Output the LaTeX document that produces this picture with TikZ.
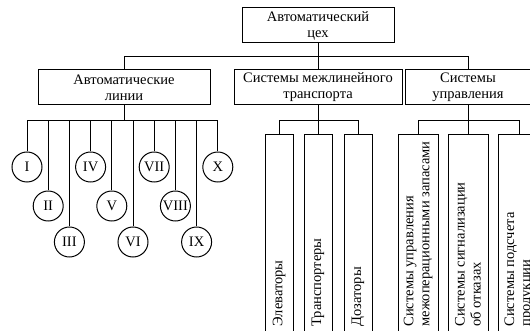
\documentclass[tikz,border=0pt]{standalone}
\usepackage{fontspec}
\setmainfont{Liberation Serif}
\usetikzlibrary{positioning}

\begin{document}
\begin{tikzpicture}[x=1pt,y=-1pt,line width=1pt,
  every node/.style={font=\fontsize{14.5}{16}\selectfont},
  main node/.style={rectangle,draw,align=center,minimum height=35pt,inner sep=1pt},
  num node/.style={circle,draw,minimum size=30pt,inner sep=0pt},
  tall node/.style={rectangle,draw,anchor=north,minimum height=206pt},
  side text/.style={rotate=90,anchor=west,align=left,inner sep=1pt}]

  \clip (0,0) rectangle (530,331);

  \node[main node, minimum width=152pt] (1) at (318,25.5) {Автоматический\\цех};

  \node[main node, minimum width=172pt] (2) at (124,87.5) {Автоматические\\линии};
  \node[main node, minimum width=168pt] (3) at (318,87.5) {Системы межлинейного\\транспорта};
  \node[main node, minimum width=126pt] (4) at (468,87.5) {Системы\\управления};

  % automatic lines
  \foreach \r [count=\i from 0] in {I,II,III,IV,V,VI,VII,VIII,IX,X}{
    \pgfmathsetmacro{\yy}{{167,206,242}[mod(\i,3)]}
    \pgfmathtruncatemacro{\n}{\i+5}
    \node[num node] (\n) at (27+21.2*\i,\yy) {\r};
  }

  \node[tall node, minimum width=28pt] (15) at (279,134) {};
  \node[tall node, minimum width=28pt] (16) at (318,134) {};
  \node[tall node, minimum width=28pt] (17) at (358,134) {};
  \node[tall node, minimum width=40pt] (18) at (418,134) {};
  \node[tall node, minimum width=40pt] (19) at (468,134) {};
  \node[tall node, minimum width=42pt] (20) at (519,134) {};

  \node[side text] (15t) at ([yshift=13pt]15.south) {Элеваторы};
  \node[side text] (16t) at ([yshift=13pt]16.south) {Транспортеры};
  \node[side text] (17t) at ([yshift=13pt]17.south) {Дозаторы};
  \node[side text] (18t) at ([yshift=13pt]18.south) {Системы управления\\межоперационными запасами};
  \node[side text] (19t) at ([yshift=13pt]19.south) {Системы сигнализации\\об отказах};
  \node[side text] (20t) at ([yshift=13pt]20.south) {Системы подсчета\\продукции};

  \draw (1) -- (3);
  \draw (2.north) -- ++(0,-13) -| (4.north);

  \draw (2.south) -- ++(0,15) coordinate (a);
  \draw (5.north |- a) -- (14.north |- a);
  \foreach \n in {5,...,14}
    \draw (\n.north) -- (\n.north |- a);

  \draw (3.south) -- ++(0,15) coordinate (b);
  \draw (15.north) |- (b) -| (17.north);
  \draw (16.north) -- (b);

  \draw (4.south) -- ++(0,15) coordinate (c);
  \draw (18.north) |- (c) -| (20.north);
  \draw (19.north) -- (c);
\end{tikzpicture}
\end{document}
